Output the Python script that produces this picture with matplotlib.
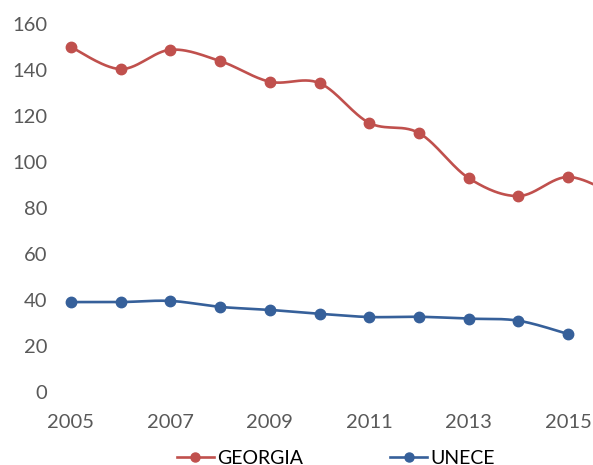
import numpy as np
import matplotlib
matplotlib.use('Agg')
from matplotlib import pyplot as plt

plt.rcParams['font.family'] = ['Lato', 'DejaVu Sans']

# data
years_georgia = [2005, 2006, 2007, 2008, 2009, 2010, 2011, 2012, 2013, 2014, 2015, 2016]
georgia = [150.0, 140.4, 148.8, 143.9, 134.9, 134.3, 117.0, 112.6, 93.0, 85.2, 93.5, 85.0]
years_unece = [2005, 2006, 2007, 2008, 2009, 2010, 2011, 2012, 2013, 2014, 2015]
unece = [39.1, 39.1, 39.6, 37.0, 35.7, 34.0, 32.6, 32.7, 31.9, 31.0, 25.2]
xticks = [2005, 2007, 2009, 2011, 2013, 2015]
yticks = [0, 20, 40, 60, 80, 100, 120, 140, 160]

red = '#C0504D'
blue = '#36609A'


def smooth(x, y, n=30):
    # catmull-rom, like excel's smoothed line
    x = np.asarray(x, float)
    y = np.asarray(y, float)
    px = np.concatenate([[x[0]], x, [x[-1]]])
    py = np.concatenate([[y[0]], y, [y[-1]]])
    xs, ys = [], []
    t = np.linspace(0, 1, n)
    for i in range(1, len(px) - 2):
        for p, out in ((px, xs), (py, ys)):
            p0, p1, p2, p3 = p[i - 1], p[i], p[i + 1], p[i + 2]
            m1 = (p2 - p0) / 2
            m2 = (p3 - p1) / 2
            out.extend(p1 + m1 * t + (3 * (p2 - p1) - 2 * m1 - m2) * t ** 2
                       + (2 * (p1 - p2) + m1 + m2) * t ** 3)
    return np.array(xs), np.array(ys)


fig = plt.figure(figsize=(5.93, 4.65), dpi=100)
ax = fig.add_axes([60 / 593, 73 / 465, 533 / 593, 391 / 465])

sx, sy = smooth(years_georgia, georgia)
ax.plot(sx, sy, color=red, lw=1.9, solid_capstyle='round')
ax.plot(years_georgia, georgia, 'o', color=red, ms=7.5, clip_on=False)
sx, sy = smooth(years_unece, unece)
ax.plot(sx, sy, color=blue, lw=1.9, solid_capstyle='round')
ax.plot(years_unece, unece, 'o', color=blue, ms=7.5, clip_on=False)

# legend handles
ax.plot([], [], '-o', color=red, lw=1.9, ms=6.5, label='GEORGIA')
ax.plot([], [], '-o', color=blue, lw=1.9, ms=6.5, label='UNECE')
handles, labels = ax.get_legend_handles_labels()
fig.legend(handles, labels, loc='center', bbox_to_anchor=(0.566, 0.015), ncol=2,
           frameon=False, fontsize=14, handlelength=1.9, handletextpad=0.15,
           columnspacing=4.5)

ax.set_xlim(2004.78, 2015.5)
ax.set_ylim(0, 170)
ax.set_xticks(xticks)
ax.set_yticks(yticks)
for s in ax.spines.values():
    s.set_visible(False)
ax.tick_params(length=0, labelsize=14.5, colors='#595959')
ax.tick_params(axis='x', pad=16)
ax.tick_params(axis='y', pad=9)

plt.savefig('out.png', dpi=100)
